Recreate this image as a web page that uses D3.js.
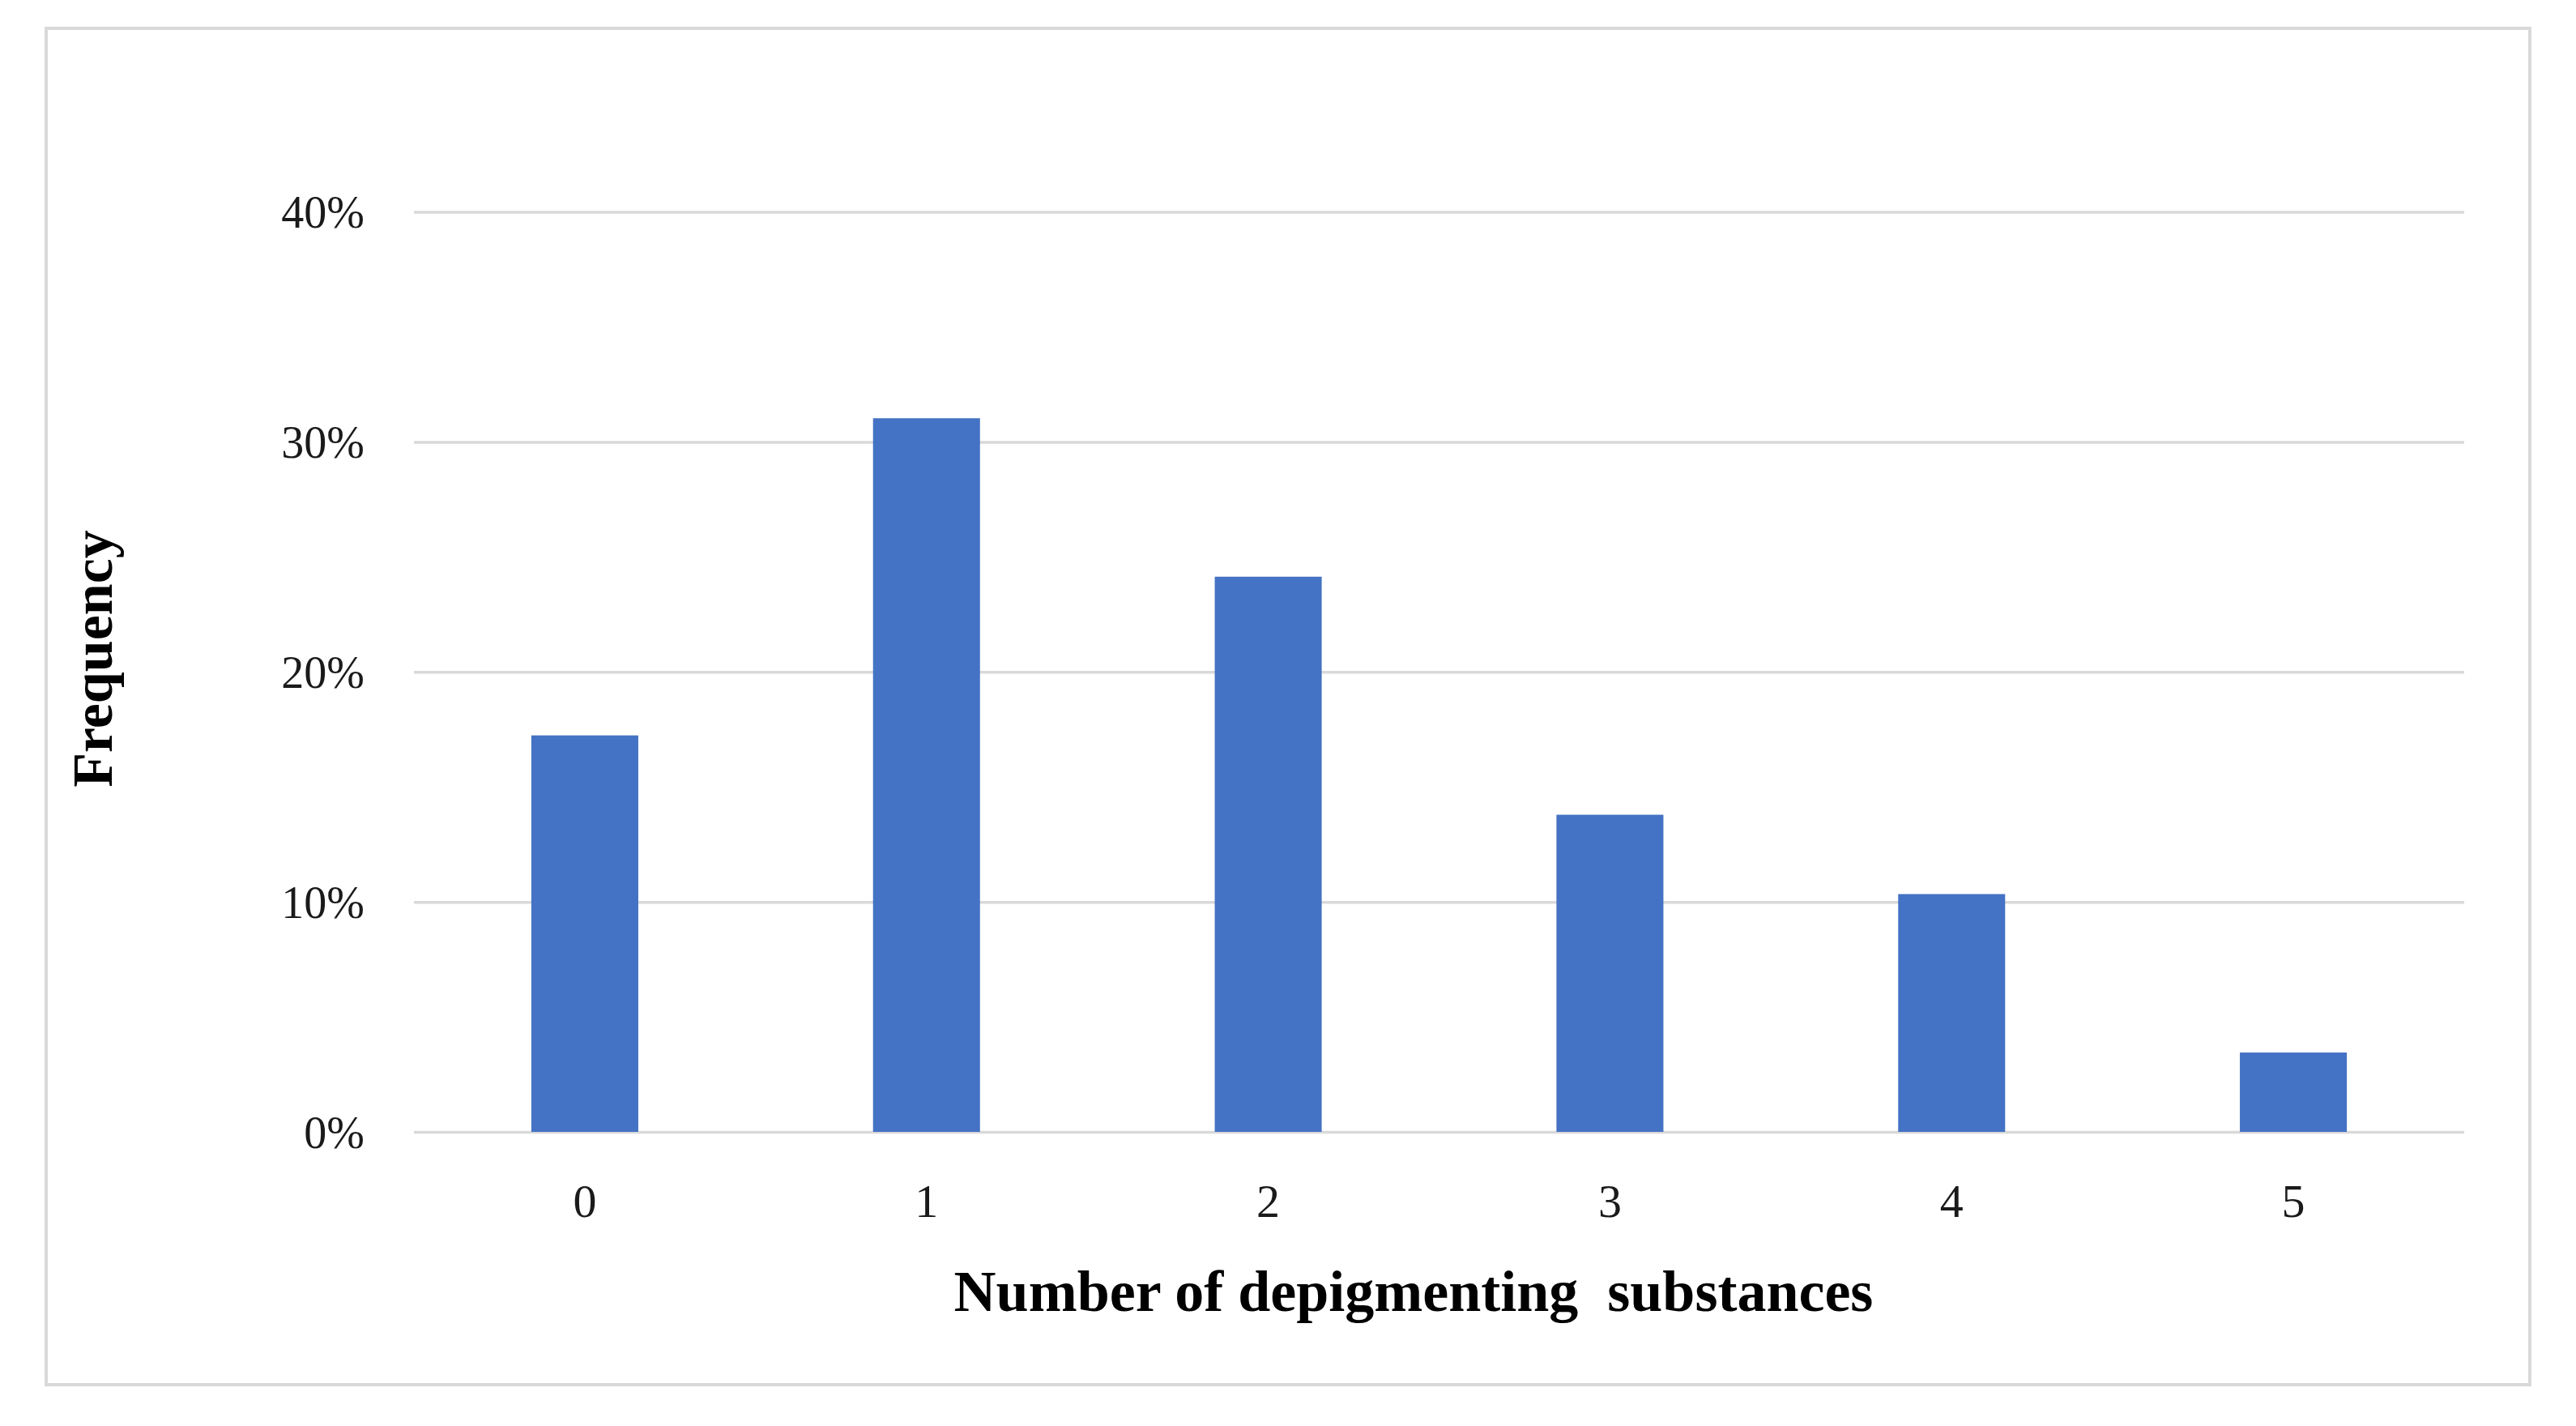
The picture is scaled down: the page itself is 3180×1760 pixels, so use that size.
<!DOCTYPE html>
<html>
<head>
<meta charset="utf-8">
<script src="https://cdn.jsdelivr.net/npm/d3@7"></script>
<style>
  html, body { margin: 0; padding: 0; background: #ffffff; }
  svg { display: block; }
</style>
</head>
<body>
<svg id="chart" width="3180" height="1760"></svg>
<script>
// ---- data ----
const categories = ["0", "1", "2", "3", "4", "5"];
const frequencies = [17.24, 31.03, 24.14, 13.79, 10.34, 3.45]; // percent
const yTicks = [0, 10, 20, 30, 40];
const xTitle = "Number of depigmenting  substances";
const yTitle = "Frequency";

// ---- layout ----
const W = 3180, H = 1760;
const plot = { left: 511, right: 3042, top: 261.6, bottom: 1397 };

const svg = d3.select("#chart");

// outer frame
svg.append("rect")
  .attr("x", 57).attr("y", 35)
  .attr("width", 3123 - 57).attr("height", 1709 - 35)
  .attr("fill", "#ffffff")
  .attr("stroke", "#d9d9d9").attr("stroke-width", 4);

const x = d3.scaleBand()
  .domain(categories)
  .range([plot.left, plot.right])
  .paddingInner(0.687).paddingOuter(0.3435);

const y = d3.scaleLinear()
  .domain([0, 40])
  .range([plot.bottom, plot.top]);

// y axis with gridlines
const yAxis = svg.append("g")
  .attr("transform", `translate(${plot.left},0)`)
  .call(d3.axisLeft(y).tickValues(yTicks)
    .tickSize(-(plot.right - plot.left))
    .tickPadding(61)
    .tickFormat(d => d + "%"));
yAxis.select(".domain").remove();
yAxis.selectAll(".tick line")
  .attr("stroke", "#d9d9d9").attr("stroke-width", 3.5);
yAxis.selectAll(".tick text")
  .attr("fill", "#1a1a1a")
  .attr("font-family", "'Liberation Serif', serif")
  .attr("font-size", 56)
  .attr("dy", "0.34em");

// bars
svg.append("g").selectAll("rect")
  .data(frequencies)
  .join("rect")
  .attr("x", (d, i) => x(categories[i]))
  .attr("y", d => y(d))
  .attr("width", x.bandwidth())
  .attr("height", d => y(0) - y(d))
  .attr("fill", "#4472c4");

// x axis
const xAxis = svg.append("g")
  .attr("transform", `translate(0,${plot.bottom})`)
  .call(d3.axisBottom(x).tickSize(0).tickPadding(64));
xAxis.select(".domain").remove();
xAxis.selectAll(".tick text")
  .attr("fill", "#1a1a1a")
  .attr("font-family", "'Liberation Serif', serif")
  .attr("font-size", 58);

// axis titles
svg.append("text")
  .attr("x", 1745).attr("y", 1618)
  .attr("text-anchor", "middle")
  .attr("font-family", "'Liberation Serif', serif")
  .attr("font-weight", "bold")
  .attr("font-size", 72)
  .attr("fill", "#000")
  .style("white-space", "pre")
  .text(xTitle);

svg.append("text")
  .attr("transform", "translate(138,813) rotate(-90)")
  .attr("text-anchor", "middle")
  .attr("font-family", "'Liberation Serif', serif")
  .attr("font-weight", "bold")
  .attr("font-size", 70)
  .attr("fill", "#000")
  .text(yTitle);
</script>
</body>
</html>
